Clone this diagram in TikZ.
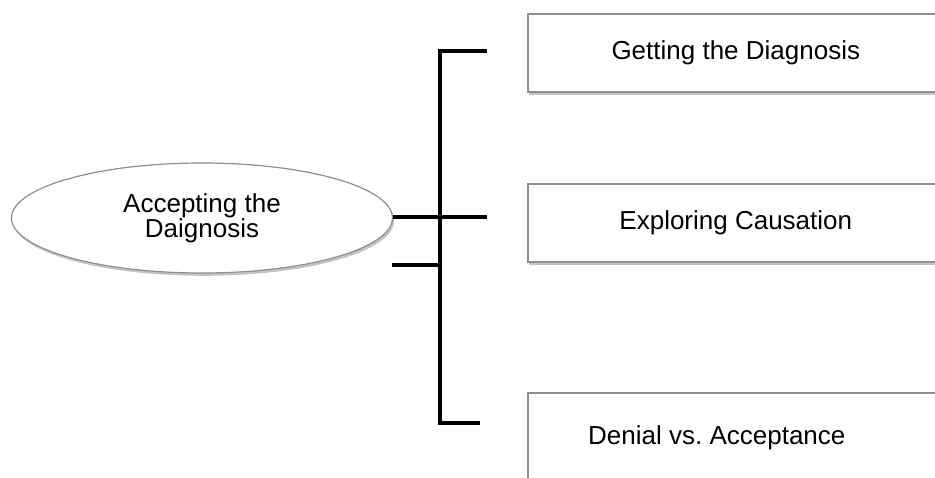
\documentclass[tikz,border=0pt]{standalone}
\usepackage{fontspec}
\setmainfont{Liberation Sans}
\usepackage{tikz}
\usepackage{xcolor}
\usetikzlibrary{shapes.geometric,shadows}
\definecolor{adgrey}{HTML}{8E8E8E}
\definecolor{adshade}{HTML}{6A6A6A}
\frenchspacing
\tikzset{
  adshadow/.style  = {drop shadow={shadow xshift=0.8pt, shadow yshift=-1.4pt,
                      opacity=0.4, fill=adshade}},
  topic/.style     = {ellipse, draw=adgrey, fill=white, line width=0.6pt,
                      align=center, inner sep=0pt, minimum width=190.5pt,
                      minimum height=55pt, adshadow,
                      font=\fontsize{13}{12.5}\selectfont},
  theme/.style     = {rectangle, draw=adgrey, fill=white, line width=0.8pt,
                      align=center, inner sep=0pt, minimum width=208pt,
                      minimum height=39pt, adshadow,
                      font=\fontsize{13}{15}\selectfont},
  bracket/.style   = {draw=black, line width=2pt, line join=miter},
}
\begin{document}
\begin{tikzpicture}[x=0.5pt, y=-0.5pt]
  \useasboundingbox (0,0) rectangle (935,477);
  \clip (0,0) rectangle (935,477);

  \node[topic] (root) at (202,218) {Accepting the\\Daignosis};
  \node[theme, anchor=north west] (getting)   at (527,13)  {Getting the Diagnosis};
  \node[theme, anchor=north west] (exploring) at (527,183) {Exploring Causation};
  \node[theme, anchor=north west, minimum height=45pt] (denial) at (527,392)
      {\hspace*{-19pt}Denial vs. Acceptance};

  % bracket joining the topic to its three themes
  \coordinate (spinetop) at (440,51);
  \coordinate (spinebot) at (440,423);
  \coordinate (toptip)   at (487,51);
  \coordinate (midtip)   at (487,217);
  \coordinate (bottip)   at (480,423);
  \coordinate (stub)     at (392,265);

  \draw[bracket] (toptip) -- (spinetop) -- (spinebot) -- (bottip);
  \draw[bracket] (root.east |- midtip) -- (midtip);
  \draw[bracket] (stub) -- (stub -| spinetop);

\end{tikzpicture}
\end{document}
